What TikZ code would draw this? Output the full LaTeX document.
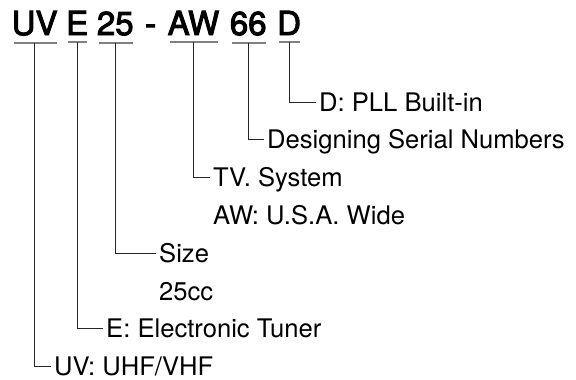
\documentclass[tikz,border=0pt]{standalone}
\usepackage{fontspec}
\setmainfont{TeX Gyre Heros}
\newfontfamily\titlefont[RawFeature={embolden=3}]{TeX Gyre Heros}
\begin{document}
\begin{tikzpicture}[x=1pt,y=-1pt,
  titletext/.style={anchor=base west,inner sep=0pt,font=\titlefont\fontsize{33}{40}\selectfont},
  labeltext/.style={anchor=base west,inner xsep=3pt,inner ysep=0pt,text height=18pt,text depth=0pt,font=\fontsize{25.6}{30}\selectfont},
  uline/.style={draw=black!50,line width=2pt,shorten <=2pt,shorten >=1pt},
  conn/.style={draw=black!85,line width=0.9pt}]
\useasboundingbox (0,0) rectangle (576,380);
% title parts
\node[titletext] (uv) at (11.5,35) {UV};
\node[titletext] (e) at (66,35) {E};
\node[titletext] (n25) at (96.7,35) {25};
\node[titletext] (dash) at (145,35) {-};
\node[titletext] (aw) at (167.5,35) {AW};
\node[titletext] (n66) at (229.7,35) {66};
\node[titletext] (d) at (277,35) {D};
% underlines
\foreach \n in {uv,e,n25,aw,n66,d}{
  \draw[uline] ([yshift=-7pt]\n.south west) -- ([yshift=-7pt]\n.south east);
}
% labels
\node[labeltext] (ld) at (316,111) {D: PLL Built-in};
\node[labeltext] (l66) at (264,148.5) {Designing Serial Numbers};
\node[labeltext] (law) at (210,186.5) {TV. System};
\node[labeltext] (lawb) at (210,224) {AW: U.S.A. Wide};
\node[labeltext] (l25) at (156,262) {Size};
\node[labeltext] (l25b) at (156,300) {25cc};
\node[labeltext] (le) at (103,337) {E: Electronic Tuner};
\node[labeltext] (luv) at (51,375) {UV: UHF/VHF};
% connectors
\draw[conn] ([yshift=-7pt]d.south) |- (ld.west);
\draw[conn] ([yshift=-7pt]n66.south) |- (l66.west);
\draw[conn] ([yshift=-7pt]aw.south) |- (law.west);
\draw[conn] ([yshift=-7pt]n25.south) |- (l25.west);
\draw[conn] ([yshift=-7pt]e.south) |- (le.west);
\draw[conn] ([yshift=-7pt]uv.south) |- (luv.west);
\end{tikzpicture}
\end{document}
